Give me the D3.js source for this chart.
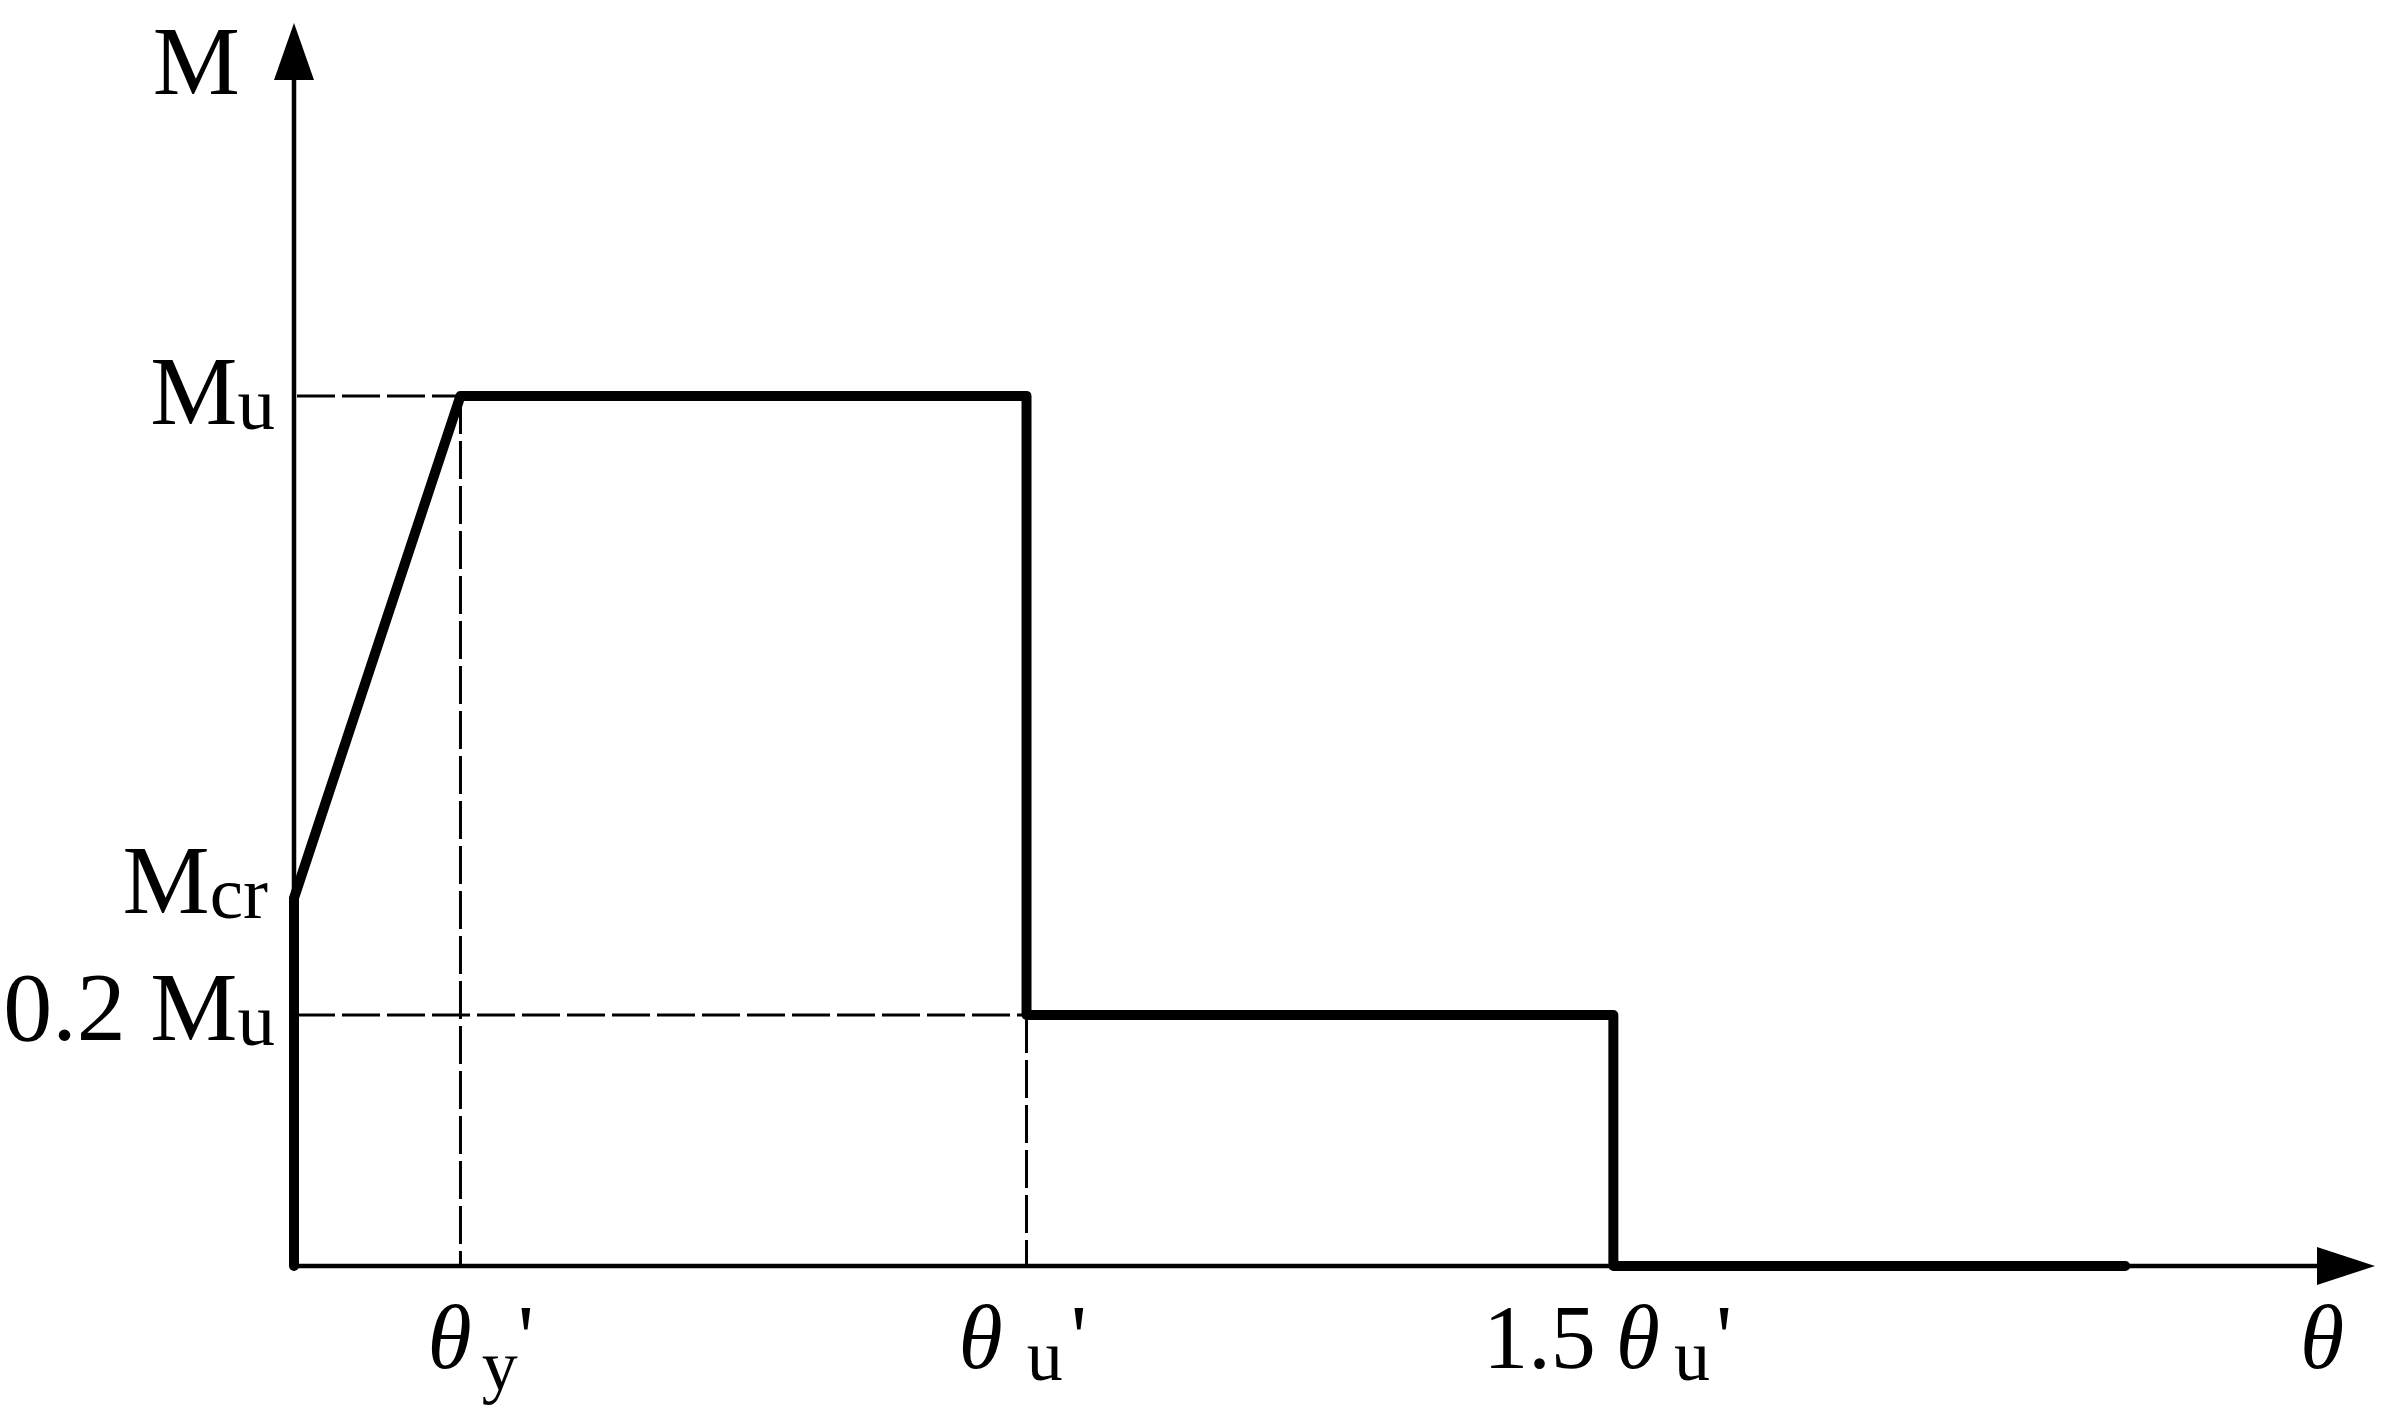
<!DOCTYPE html>
<html>
<head>
<meta charset="utf-8">
<script src="https://cdn.jsdelivr.net/npm/d3@7"></script>
<style>
  html, body { margin: 0; padding: 0; background: #fff; }
  svg { display: block; }
  text { font-family: 'Liberation Serif', 'Times New Roman', serif; fill: #000; }
</style>
</head>
<body>
<svg class="chart"></svg>
<script>
// schematic moment-rotation curve, values in chart units (0..10)
const curveTheta = [0, 0, 0.80, 3.52, 3.52, 6.34, 6.34, 8.80]
const curveMoment = [0, 2.96, 7.0, 7.0, 2.02, 2.02, 0, 0]

const xTickValues = [0.80, 3.52, 6.34]
const xTickPre = ['', '', '1.5']
const xTickSub = ['y', 'u', 'u']

const yTickValues = [7.0, 2.96, 2.02]
const yTickPre = ['', '', '0.2 ']
const yTickSub = ['u', 'cr', 'u']

// dashed guides: [theta, moment] corners
const guideTheta = [0.80, 3.52]
const guideMoment = [7.0, 2.02]

const width = 2404
const height = 1419

const x = d3.scaleLinear().domain([0, 10]).range([294, 2375])
const y = d3.scaleLinear().domain([0, 10]).range([1266, 23])

const chart = d3.select('.chart')
  .attr('width', width)
  .attr('height', height)

// axes
const axes = chart.append('g').attr('class', 'axes')
axes.append('line')
  .attr('x1', x(0)).attr('x2', x(0))
  .attr('y1', y(0)).attr('y2', y(10) + 57)
  .attr('stroke', '#000').attr('stroke-width', 4.5)
axes.append('line')
  .attr('x1', x(0)).attr('x2', x(10) - 58)
  .attr('y1', y(0)).attr('y2', y(0))
  .attr('stroke', '#000').attr('stroke-width', 4.5)
axes.append('path')
  .attr('d', `M${x(0)},${y(10)}L${x(0) - 20},${y(10) + 57}L${x(0) + 20},${y(10) + 57}Z`)
  .attr('fill', '#000')
axes.append('path')
  .attr('d', `M${x(10)},${y(0)}L${x(10) - 58},${y(0) - 19}L${x(10) - 58},${y(0) + 19}Z`)
  .attr('fill', '#000')

// dashed guides
const guides = chart.append('g').attr('class', 'guides')
  .attr('stroke', '#000')
  .attr('stroke-width', 3)
  .attr('stroke-dasharray', '38,7')
  .attr('fill', 'none')
guideTheta.forEach((t, i) => {
  guides.append('line')
    .attr('x1', x(0) + 3).attr('x2', x(t))
    .attr('y1', y(guideMoment[i])).attr('y2', y(guideMoment[i]))
  guides.append('line')
    .attr('x1', x(t)).attr('x2', x(t))
    .attr('y1', y(guideMoment[i])).attr('y2', y(0) - 2)
})

// curve
const points = curveTheta.map((t, i) => [t, curveMoment[i]])
const line = d3.line().x(d => x(d[0])).y(d => y(d[1]))
chart.append('path')
  .datum(points)
  .attr('d', line)
  .attr('fill', 'none')
  .attr('stroke', '#000')
  .attr('stroke-width', 10)
  .attr('stroke-linejoin', 'round')
  .attr('stroke-linecap', 'round')

// y labels
const yNudge = [28, 15, 25]
const yRight = [275, 268, 275]
chart.append('g').attr('class', 'axisLeft')
  .selectAll('text')
  .data(yTickValues)
  .enter()
  .append('text')
  .attr('x', (d, i) => yRight[i])
  .attr('y', (d, i) => y(d) + yNudge[i])
  .attr('text-anchor', 'end')
  .attr('font-size', 98)
  .each((d, i, nodes) => {
    const t = d3.select(nodes[i])
    if (yTickPre[i]) t.append('tspan').text(yTickPre[i])
    t.append('tspan').text('M')
    t.append('tspan').attr('font-size', 75).attr('dy', 5).text(yTickSub[i])
  })

chart.append('text')
  .attr('x', 240)
  .attr('y', y(10) + 71)
  .attr('text-anchor', 'end')
  .attr('font-size', 98)
  .text('M')

// x labels
const xNudge = [-33, -68, -130]
const subGap = [10, 24, 14]
const subDrop = { y: 22, u: 12 }
const primeGap = [0, 8, 6]
chart.append('g').attr('class', 'axisBottom')
  .selectAll('text')
  .data(xTickValues)
  .enter()
  .append('text')
  .attr('x', (d, i) => x(d) + xNudge[i])
  .attr('y', y(0) + 102)
  .attr('font-size', 90)
  .each((d, i, nodes) => {
    const t = d3.select(nodes[i])
    const drop = subDrop[xTickSub[i]]
    if (xTickPre[i]) t.append('tspan').text(xTickPre[i])
    t.append('tspan')
      .attr('font-style', 'italic')
      .attr('dx', xTickPre[i] ? 20 : 0)
      .text('θ')
    t.append('tspan')
      .attr('font-size', 72)
      .attr('dx', subGap[i])
      .attr('dy', drop)
      .text(xTickSub[i])
    t.append('tspan')
      .attr('dx', primeGap[i])
      .attr('dy', -drop)
      .text("'")
  })

chart.append('text')
  .attr('x', x(10) - 75)
  .attr('y', y(0) + 102)
  .attr('font-size', 90)
  .attr('font-style', 'italic')
  .text('θ')
</script>
</body>
</html>
